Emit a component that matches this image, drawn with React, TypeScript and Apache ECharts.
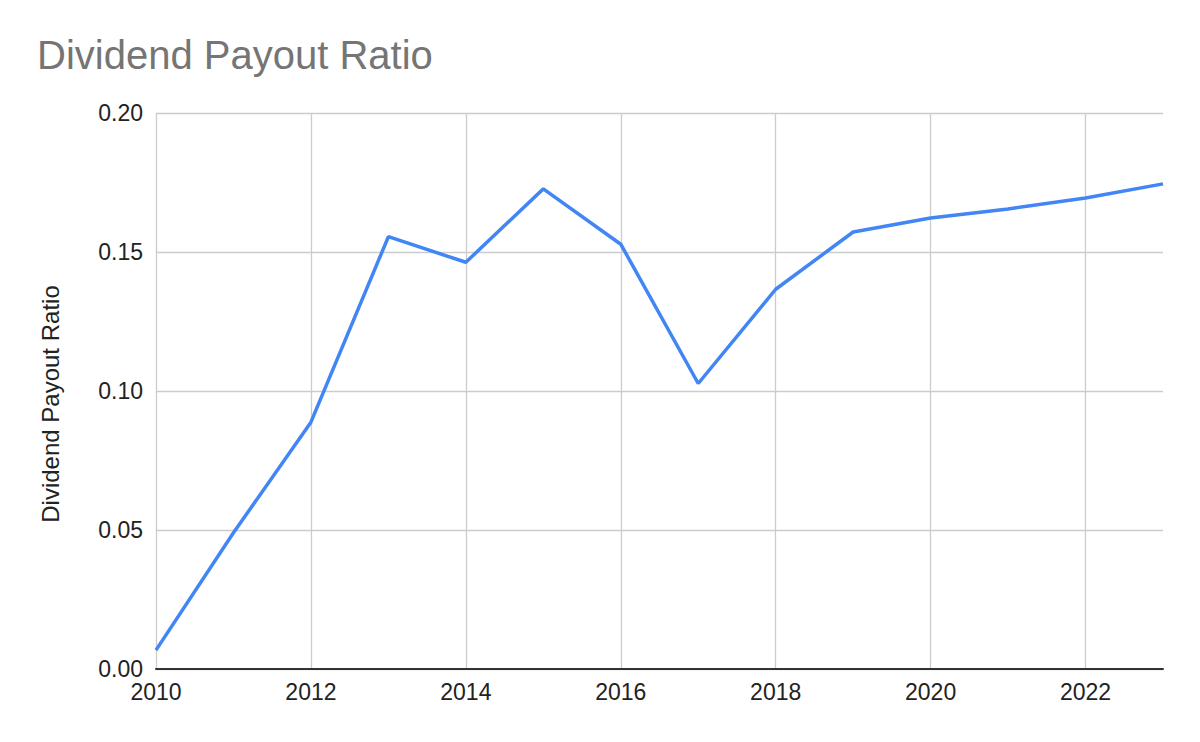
import React, { useEffect, useRef } from "react";
import * as echarts from "echarts";

const years = [2010, 2011, 2012, 2013, 2014, 2015, 2016, 2017, 2018, 2019, 2020, 2021, 2022, 2023];
const payoutRatio = [0.0068, 0.049, 0.0888, 0.1555, 0.1463, 0.1727, 0.1528, 0.1027, 0.1366, 0.1572, 0.1622, 0.1655, 0.1694, 0.1745];
const chartTitle = "Dividend Payout Ratio";
const yAxisName = "Dividend Payout Ratio";

const FONT = "Arial, 'Liberation Sans', sans-serif";

export default function App() {
  const ref = useRef<HTMLDivElement>(null);
  useEffect(() => {
    if (!ref.current) return;
    const chart = echarts.init(ref.current, undefined, { renderer: "svg" });
    chart.setOption({
      animation: false,
      backgroundColor: "#ffffff",
      textStyle: { fontFamily: FONT },
      title: {
        text: chartTitle,
        left: 32,
        top: 30,
        textStyle: { fontFamily: FONT, fontSize: 40, fontWeight: "normal", color: "#757575" },
      },
      graphic: [
        {
          type: "text",
          x: 50,
          y: 404,
          rotation: Math.PI / 2,
          style: {
            text: yAxisName,
            fill: "#222222",
            font: `24px ${FONT}`,
            align: "center",
            verticalAlign: "middle",
          },
        },
      ],
      grid: { left: 156, right: 37, top: 113, bottom: 73, containLabel: false },
      xAxis: {
        type: "value",
        min: 2010,
        max: 2023,
        interval: 2,
        axisLine: { show: true, lineStyle: { color: "#333333", width: 2 } },
        axisTick: { show: false },
        axisLabel: {
          color: "#222222",
          fontSize: 23,
          fontFamily: FONT,
          margin: 11,
          formatter: (v: number) => (v % 2 === 0 && v < 2023 ? String(v) : ""),
        },
        splitLine: { show: true, showMaxLine: false, lineStyle: { color: "#cccccc", width: 1.3 } },
      },
      yAxis: {
        type: "value",
        min: 0,
        max: 0.2,
        interval: 0.05,
        axisLine: { show: false },
        axisTick: { show: false },
        axisLabel: {
          color: "#222222",
          fontSize: 23,
          fontFamily: FONT,
          margin: 13,
          formatter: (v: number) => v.toFixed(2),
        },
        splitLine: { show: true, lineStyle: { color: "#cccccc", width: 1.3 } },
      },
      series: [
        {
          type: "line",
          data: years.map((y, i) => [y, payoutRatio[i]]),
          showSymbol: false,
          symbol: "none",
          lineStyle: { color: "#4285f4", width: 3.5 },
          itemStyle: { color: "#4285f4" },
        },
      ],
    });
    return () => chart.dispose();
  }, []);
  return <div ref={ref} style={{ width: 1200, height: 742, position: "absolute", left: 0, top: 0 }} />;
}
